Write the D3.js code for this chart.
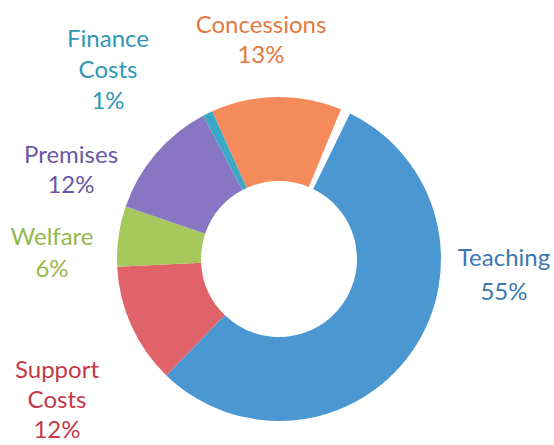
<!DOCTYPE html>
<html><head><meta charset="utf-8">
<script src="https://cdn.jsdelivr.net/npm/d3@7"></script>
<style>body{margin:0;background:#fff;overflow:hidden}</style>
</head><body><svg id="c" width="554" height="445"></svg>
<script>
const categories = ["Teaching", "Support Costs", "Welfare", "Premises", "Finance Costs", "Concessions"];
const values = [55, 12, 6, 12, 1, 13];
const labelLines = [["Teaching"], ["Support", "Costs"], ["Welfare"], ["Premises"], ["Finance", "Costs"], ["Concessions"]];
const sliceColors = ["#4a97d2", "#e1636a", "#a7c85c", "#8876c2", "#3aa8c6", "#f58b5a"];
const labelColors = ["#3b78b0", "#c43848", "#97b84c", "#6a56a6", "#2f98b6", "#e4793f"];

// layout (label anchors: center x, first baseline, line spacing)
const labelPos = [
  [504, 266, 34],
  [57, 378, 30],
  [52, 245, 32],
  [71, 163, 30],
  [108, 47, 31],
  [261, 33, 30]
];
const cx = 279, cy = 259, rOuter = 162, rInner = 78;
const deg = Math.PI / 180;

const svg = d3.select("#c");
const pie = d3.pie().sort(null).value(d => d)
  .startAngle(26 * deg).endAngle((26 + 356.5) * deg);
const arc = d3.arc().innerRadius(rInner).outerRadius(rOuter);
const arcs = pie(values);

const g = svg.append("g").attr("transform", `translate(${cx},${cy})`);
g.selectAll("path").data(arcs).join("path")
  .attr("d", arc)
  .attr("fill", (d, i) => sliceColors[i]);

const labels = svg.selectAll("text.lbl").data(categories).join("text")
  .attr("class", "lbl")
  .attr("text-anchor", "middle")
  .attr("font-family", "Lato, 'Open Sans', sans-serif")
  .attr("font-size", 24)
  .attr("fill", (d, i) => labelColors[i]);

labels.each(function (d, i) {
  const lines = labelLines[i].concat([values[i] + "%"]);
  const [x, y, sp] = labelPos[i];
  d3.select(this).selectAll("tspan").data(lines).join("tspan")
    .attr("x", x).attr("y", (t, j) => y + j * sp)
    .text(t => t);
});
</script>
</body></html>
